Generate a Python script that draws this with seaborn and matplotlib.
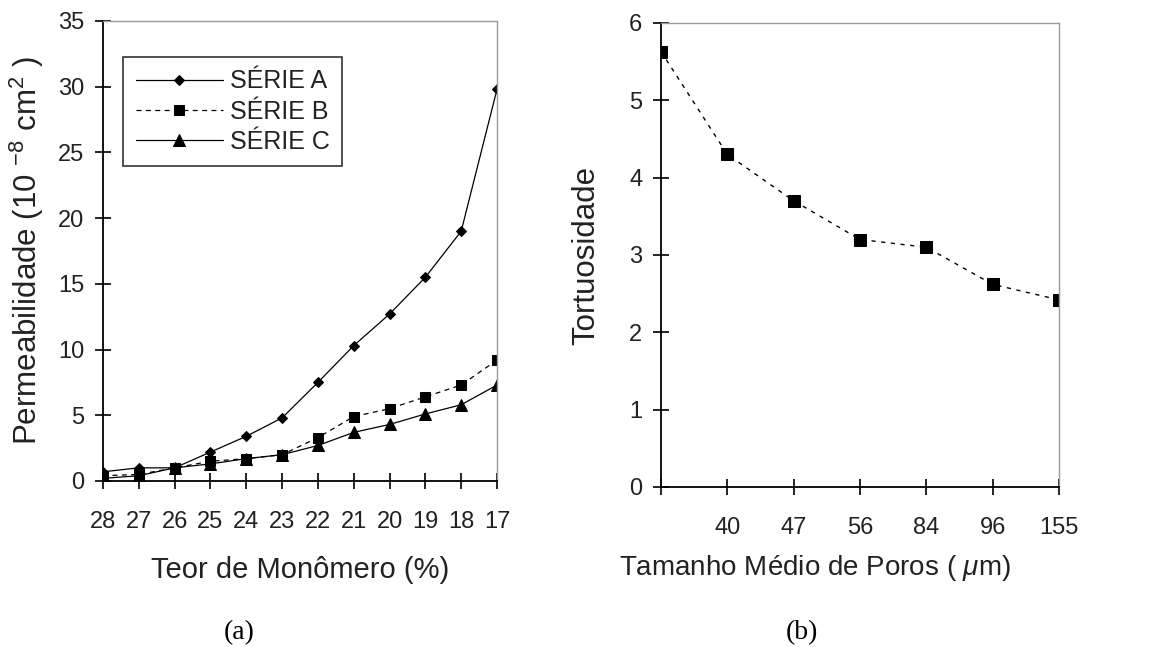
import numpy as np
import pandas as pd
import matplotlib
matplotlib.use("Agg")
import matplotlib.pyplot as plt
import seaborn as sns

# ---- data (a) ----
teor = [28, 27, 26, 25, 24, 23, 22, 21, 20, 19, 18, 17]
serie_a = [0.7, 1.0, 1.0, 2.2, 3.4, 4.8, 7.5, 10.3, 12.7, 15.5, 19.0, 29.8]
serie_b = [0.4, 0.5, 1.0, 1.5, 1.7, 2.0, 3.3, 4.9, 5.5, 6.4, 7.3, 9.2]
serie_c = [0.2, 0.4, 1.0, 1.3, 1.7, 2.0, 2.7, 3.7, 4.3, 5.1, 5.8, 7.3]
series_names = ["SÉRIE A", "SÉRIE B", "SÉRIE C"]

# ---- data (b) ----
poros_labels = ["", "40", "47", "56", "84", "96", "155"]
tortuosidade = [5.63, 4.3, 3.7, 3.2, 3.1, 2.62, 2.42]

sns.set_style("white")
plt.rcParams["font.family"] = ["Liberation Sans", "DejaVu Sans"]
plt.rcParams["mathtext.fontset"] = "custom"
plt.rcParams["mathtext.rm"] = "Liberation Sans"
plt.rcParams["mathtext.it"] = "Liberation Sans:italic"

fig = plt.figure(figsize=(11.51, 6.47), dpi=100)
ax1 = fig.add_axes([0.0895, 0.2566, 0.3423, 0.7110])
ax2 = fig.add_axes([0.5743, 0.2473, 0.3458, 0.7172])

tick_fs = 17
label_fs = 21
ylabel_fs = 22.5

def style_axes(ax):
    for s in ["left", "bottom"]:
        ax.spines[s].set_color("black")
        ax.spines[s].set_linewidth(1.3)
    for s in ["top", "right"]:
        ax.spines[s].set_color("#9a9a9a")
        ax.spines[s].set_linewidth(1.0)
    ax.tick_params(axis="both", which="major", direction="inout", length=11,
                   width=1.2, color="black", labelsize=tick_fs, labelcolor="#222222")
    ax.tick_params(axis="x", pad=16, bottom=True)
    ax.tick_params(axis="y", pad=8, left=True)
    ax.grid(False)

# ---- panel (a) ----
df_a = pd.DataFrame({"teor": teor, "A": serie_a, "B": serie_b, "C": serie_c})
sns.lineplot(data=df_a, x="teor", y="A", ax=ax1, color="black", linewidth=0.9,
             marker="D", markersize=5.5, markeredgecolor="black", label=series_names[0])
sns.lineplot(data=df_a, x="teor", y="B", ax=ax1, color="black", linewidth=0.9,
             linestyle=(0, (4, 3.5)), marker="s", markersize=7, markeredgecolor="black",
             label=series_names[1])
sns.lineplot(data=df_a, x="teor", y="C", ax=ax1, color="black", linewidth=0.9,
             marker="^", markersize=8, markeredgecolor="black", label=series_names[2])
ax1.set_xlim(teor[0], teor[-1])
ax1.set_ylim(0, 35)
ax1.set_xticks(teor)
ax1.set_xticklabels([str(t) for t in teor])
ax1.set_yticks(np.arange(0, 36, 5))
ax1.set_xlabel("Teor de Monômero (%)", fontsize=label_fs, color="#222222", labelpad=17)
ax1.set_ylabel(r"Permeabilidade (10 $^{-8}$ cm$^{2}$ )", fontsize=ylabel_fs,
               color="#222222", labelpad=9)
style_axes(ax1)
leg = ax1.legend(loc="upper left", bbox_to_anchor=(0.051, 0.922), borderaxespad=0,
                 fontsize=18, frameon=True, fancybox=False, edgecolor="black",
                 handlelength=3.5, handletextpad=0.28, labelspacing=0.25,
                 borderpad=0.5)
leg.get_frame().set_linewidth(1.2)
for t in leg.get_texts():
    t.set_color("#222222")

# ---- panel (b) ----
df_b = pd.DataFrame({"pos": np.arange(len(poros_labels)), "tort": tortuosidade})
sns.lineplot(data=df_b, x="pos", y="tort", ax=ax2, color="black", linewidth=1.0,
             linestyle=(0, (3, 4)), marker="s", markersize=8, markeredgecolor="black")
ax2.set_xlim(0, len(poros_labels) - 1)
ax2.set_ylim(0, 6)
ax2.set_xticks(np.arange(len(poros_labels)))
ax2.set_xticklabels(poros_labels)
ax2.set_yticks(np.arange(0, 7, 1))
ax2.set_xlabel(r"Tamanho Médio de Poros ( $\mu$m)", fontsize=20,
               color="#222222", labelpad=10, x=0.387)
ax2.set_ylabel("Tortuosidade", fontsize=ylabel_fs, color="#222222", labelpad=20)
style_axes(ax2)

# panel captions
fig.text(239 / 1151, 1 - 633 / 647, "(a)", fontsize=20, family="Liberation Serif",
         ha="center", va="center", color="black")
fig.text(802 / 1151, 1 - 633 / 647, "(b)", fontsize=20, family="Liberation Serif",
         ha="center", va="center", color="black")

fig.savefig("out.png", dpi=100, facecolor="white")
